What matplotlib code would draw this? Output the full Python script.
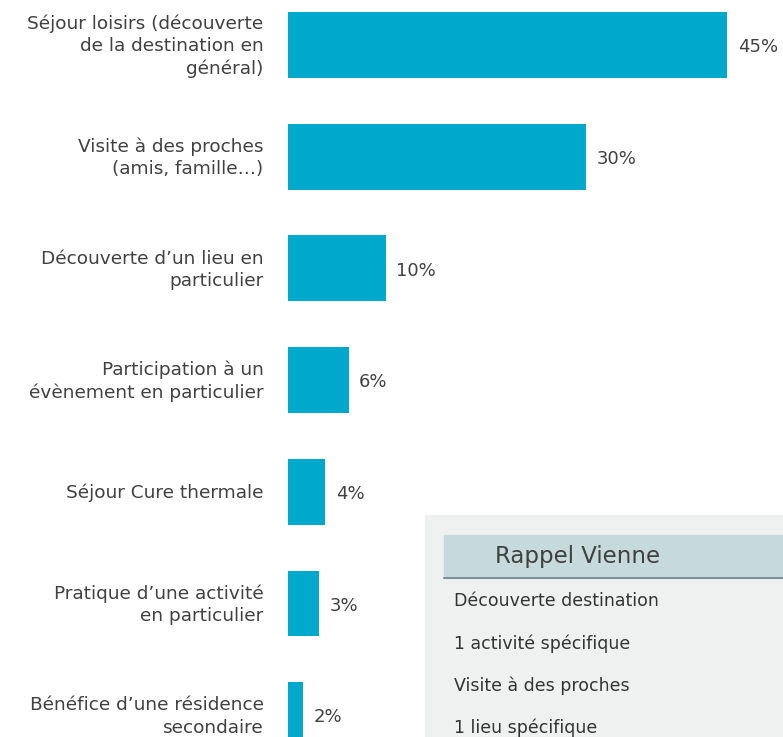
import matplotlib.pyplot as plt
from matplotlib.patches import Rectangle

# categories and values (bars as drawn, labels as printed)
categories = ["Séjour loisirs (découverte\nde la destination en\ngénéral)",
              "Visite à des proches\n(amis, famille…)",
              "Découverte d’un lieu en\nparticulier",
              "Participation à un\névènement en particulier",
              "Séjour Cure thermale",
              "Pratique d’une activité\nen particulier",
              "Bénéfice d’une résidence\nsecondaire"]
values = [45, 30.5, 10, 6.2, 3.8, 3.2, 1.5]
value_labels = ["45%", "30%", "10%", "6%", "4%", "3%", "2%"]

rappel_title = "Rappel Vienne"
rappel_items = ["Découverte destination", "1 activité spécifique",
                "Visite à des proches", "1 lieu spécifique"]

W, H = 783, 737
fig = plt.figure(figsize=(W / 100, H / 100), dpi=100)
plt.rcParams['font.family'] = ['DejaVu Sans']
txt_col = '#404040'

# axes: left edge at bar origin
left = 288 / W
ax = fig.add_axes([left, 0, 1 - left, 1])
px_per_unit = 9.76
ax.set_xlim(0, (W - 288) / px_per_unit)
ystep = 111.7
ax.set_ylim((H - 45) / ystep, -45 / ystep)

pos = list(range(len(categories)))
ax.barh(pos, values, height=0.59, color='#00a9cc')
for p, v, lab in zip(pos, values, value_labels):
    ax.text(v + 1.1, p + 0.02, lab, va='center', ha='left', fontsize=13, color=txt_col)

# category labels, right aligned left of the bars
for p, cat in zip(pos, categories):
    ax.annotate(cat, xy=(0, p), xytext=(-17.5, -1), textcoords='offset points',
                ha='right', va='center', fontsize=13.3, color=txt_col,
                linespacing=1.3, annotation_clip=False)

ax.set_xticks([])
ax.set_yticks([])
for s in ax.spines.values():
    s.set_visible(False)

# "Rappel Vienne" inset
def fy(py):
    return 1 - py / H

fig.patches.append(Rectangle((425 / W, 0), 1 - 425 / W, (H - 515) / H,
                             transform=fig.transFigure, color='#eff1f1', zorder=0))
fig.patches.append(Rectangle((444 / W, fy(578)), 1 - 444 / W, 43 / H,
                             transform=fig.transFigure, color='#c6dadb', zorder=1))
fig.add_artist(plt.Line2D([444 / W, 1], [fy(578), fy(578)], color='#6f8486', lw=1.2))
fig.text(495 / W, fy(557), rappel_title, fontsize=16.5, color=txt_col, va='center')
for i, item in enumerate(rappel_items):
    fig.text(454 / W, fy(601 + 42.3 * i), item, fontsize=12.5, color='#333333', va='center')

fig.savefig('out.png', dpi=100)
